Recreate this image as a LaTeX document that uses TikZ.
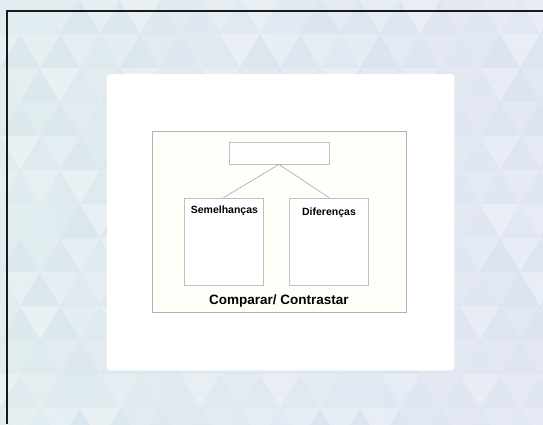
\documentclass[tikz,border=0pt]{standalone}
\usepackage{fontspec}
\setmainfont{Liberation Sans}
\begin{document}
\begin{tikzpicture}[x=1pt,y=-1pt,
  graybox/.style={draw=black!25, line width=0.8pt, fill=white, inner sep=0pt},
  link/.style={draw=black!35, line width=0.6pt},
  lbl/.style={font=\bfseries\fontsize{10.5}{12}\selectfont, inner sep=0pt}]
\useasboundingbox (0,0) rectangle (543,424);
\definecolor{bgL}{HTML}{E0ECEF}
\definecolor{bgR}{HTML}{E2E7F4}
\definecolor{tri}{HTML}{C9D8E6}
\shade[left color=bgL, right color=bgR] (0,0) rectangle (543,424);
% faint triangular texture
\foreach \i in {0,...,15}{
  \foreach \j in {0,...,13}{
    \pgfmathsetmacro{\opa}{mod(\i*37+\j*61+\i*\j*11,7)*0.045}
    \pgfmathsetmacro{\opb}{mod(\i*53+\j*29+\i*\j*5,6)*0.04}
    \pgfmathsetmacro{\xx}{\i*40-20*mod(\j,2)}
    \pgfmathsetmacro{\yy}{\j*34}
    \fill[white, opacity=\opa] (\xx,\yy) -- ++(40,0) -- ++(-20,34) -- cycle;
    \fill[tri, opacity=\opb] (\xx+20,\yy+34) -- ++(40,0) -- ++(-20,-34) -- cycle;
  }
}
\draw[black!90, line width=1.8pt] (7,424) -- (7,11) -- (543,11);
% white panel
\fill[black!4, rounded corners=3pt] (106.5,74) rectangle (454.6,370.6);
\node[fill=white, rounded corners=3pt, minimum width=347pt, minimum height=296pt, inner sep=0pt] (panel) at (280.5,222) {};
% diagram frame
\node[draw=black!30, line width=0.8pt, fill=white!98!yellow, minimum width=254pt, minimum height=181pt, inner sep=0pt] (frame) at (279,221.5) {};
\node[graybox, minimum width=100pt, minimum height=22pt] (top) at (279,153) {};
\node[graybox, minimum width=79pt, minimum height=87pt] (sem) at (223.5,241.5) {};
\node[graybox, minimum width=79pt, minimum height=87pt] (dif) at (329,241.5) {};
\draw[link] (top.south) -- (sem.north);
\draw[link] (top.south) -- (dif.north);
\node[lbl] (semt) at (224.4,211) {Semelhanças};
\node[lbl] (dift) at (329,213) {Diferenças};
\node[lbl, font=\bfseries\fontsize{13.5}{15}\selectfont] (title) at (278.8,301) {Comparar/ Contrastar};
\end{tikzpicture}
\end{document}
